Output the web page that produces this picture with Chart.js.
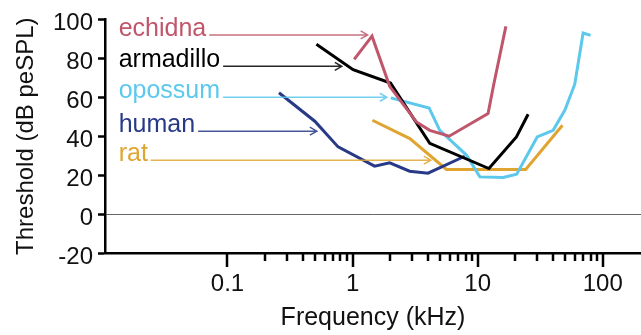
<!DOCTYPE html>
<html>
<head>
<meta charset="utf-8">
<script src="https://cdn.jsdelivr.net/npm/chart.js@4.4.1/dist/chart.umd.min.js"></script>
<style>
  body { margin: 0; background: #fff; }
  #wrap { width: 641px; height: 335px; position: relative; }
</style>
</head>
<body>
<div id="wrap"><canvas id="chart"></canvas></div>
<script>
// Hearing thresholds per species (kHz, dB peSPL)
const species = ['echidna', 'armadillo', 'opossum', 'human', 'rat'];
const colors = ['#c0566b', '#000000', '#5bc8ec', '#283a87', '#e0a530'];

const echidnaFreq = [1.03, 1.43, 1.98, 3.24, 4.14, 5.91, 12.1, 13.5, 16.8];
const echidnaDb = [79.5, 91.4, 65.6, 47.3, 43, 40, 51.6, 67.2, 96.4];
const armadilloFreq = [0.514, 1.01, 2.01, 4.14, 12.3, 20.4, 25.3];
const armadilloDb = [87.2, 74.2, 67.3, 36.3, 23.4, 39.6, 51.3];
const opossumFreq = [2.02, 4.09, 4.98, 8.13, 10.4, 16.0, 20.5, 29.9, 40.1, 49.7, 59.7, 69.6, 79.8];
const opossumDb = [59.7, 54.5, 43, 30.3, 19.1, 18.8, 20.5, 39.6, 43, 53.3, 66.7, 93, 91.8];
const humanFreq = [0.258, 0.499, 0.766, 1.50, 1.98, 2.86, 4.01, 7.88];
const humanDb = [62.3, 47.7, 34.5, 24.6, 26.3, 22, 21, 29.7];
const ratFreq = [1.44, 2.87, 5.63, 24.2, 47.6];
const ratDb = [48.2, 38.8, 22.9, 22.9, 45.6];

// label arrows: where each arrow points and at which level it runs
const labelFreq = 0.0135;
const arrowTipFreq = [1.32, 0.82, 1.88, 0.518, 4.22];
const arrowLevelDb = [92, 75.9, 60, 42.6, 27.7];

const xMajorTicks = [0.1, 1, 10, 100];
const yTicks = [-20, 0, 20, 40, 60, 80, 100];

const FONT = '"Liberation Sans", Arial, Helvetica, sans-serif';
Chart.defaults.font.family = FONT;
Chart.defaults.color = '#111';

function toPoints(xs, ys) {
  return xs.map((x, i) => ({ x: x, y: ys[i] }));
}

const seriesData = [
  toPoints(echidnaFreq, echidnaDb),
  toPoints(armadilloFreq, armadilloDb),
  toPoints(opossumFreq, opossumDb),
  toPoints(humanFreq, humanDb),
  toPoints(ratFreq, ratDb)
];

// minor + major tick marks under the log axis
const logTicksPlugin = {
  id: 'logTicks',
  afterDraw(chart) {
    const x = chart.scales.x;
    const ctx = chart.ctx;
    const y0 = chart.chartArea.bottom;
    ctx.save();
    ctx.strokeStyle = '#000';
    ctx.lineWidth = 2.5;
    for (let d = 0.1; d < 100; d *= 10) {
      for (let k = 1; k <= 10; k++) {
        const v = d * k;
        const major = k === 1 || k === 10;
        if (k === 10 && v < 100) continue;
        const px = Math.round(x.getPixelForValue(v));
        ctx.beginPath();
        ctx.moveTo(px, y0);
        ctx.lineTo(px, y0 + (major ? 14 : 8));
        ctx.stroke();
      }
    }
    ctx.restore();
  }
};

// coloured names with arrows pointing at the curves
const arrowLabelsPlugin = {
  id: 'arrowLabels',
  afterDatasetsDraw(chart) {
    const { ctx } = chart;
    const xs = chart.scales.x;
    const ys = chart.scales.y;
    ctx.save();
    ctx.font = '25px ' + FONT;
    ctx.textBaseline = 'alphabetic';
    species.forEach((name, i) => {
      const y = ys.getPixelForValue(arrowLevelDb[i]);
      const x0 = xs.getPixelForValue(labelFreq);
      const tip = xs.getPixelForValue(arrowTipFreq[i]);
      ctx.fillStyle = colors[i];
      ctx.fillText(name, x0, y + 1);
      const start = x0 + ctx.measureText(name).width + 3;
      ctx.strokeStyle = colors[i];
      ctx.globalAlpha = 0.85;
      ctx.lineWidth = 1.5;
      ctx.beginPath();
      ctx.moveTo(start, y);
      ctx.lineTo(tip, y);
      ctx.moveTo(tip - 7, y - 4);
      ctx.lineTo(tip, y);
      ctx.lineTo(tip - 7, y + 4);
      ctx.stroke();
      ctx.globalAlpha = 1;
    });
    ctx.restore();
  }
};

new Chart(document.getElementById('chart'), {
  type: 'line',
  data: {
    datasets: species.map((name, i) => ({
      label: name,
      data: seriesData[i],
      borderColor: colors[i],
      borderWidth: 3,
      pointRadius: 0,
      tension: 0,
      fill: false
    }))
  },
  options: {
    responsive: true,
    maintainAspectRatio: false,
    animation: false,
    layout: { padding: { top: 19, right: 0, left: 0, bottom: 0 } },
    plugins: {
      legend: { display: false },
      tooltip: { enabled: false }
    },
    scales: {
      x: {
        type: 'logarithmic',
        min: 0.0105,
        max: 202,
        afterFit(scale) { scale.height = 82; },
        afterBuildTicks(scale) {
          scale.ticks = xMajorTicks.map(v => ({ value: v }));
        },
        ticks: {
          autoSkip: false,
          maxRotation: 0,
          padding: 17,
          font: { size: 24 },
          color: '#111',
          callback: v => String(v)
        },
        grid: { drawOnChartArea: false, drawTicks: false },
        border: { display: true, color: '#000', width: 2.5 },
        title: {
          display: true,
          text: 'Frequency (kHz)',
          font: { size: 25 },
          color: '#111',
          padding: { top: 0, bottom: 2 }
        }
      },
      y: {
        min: -20,
        max: 100,
        afterFit(scale) { scale.width = 105; },
        afterBuildTicks(scale) {
          scale.ticks = yTicks.map(v => ({ value: v }));
        },
        ticks: {
          padding: 5,
          labelOffset: 4,
          font: { size: 24 },
          color: '#111'
        },
        grid: {
          drawOnChartArea: true,
          color: c => (c.tick && c.tick.value === 0 ? '#666' : 'rgba(0,0,0,0)'),
          lineWidth: 1,
          tickColor: '#000',
          tickWidth: 2.5,
          tickLength: 7
        },
        border: { display: true, color: '#000', width: 2.5 },
        title: {
          display: true,
          text: 'Threshold (dB peSPL)',
          font: { size: 24 },
          color: '#111',
          padding: { top: 12, bottom: 0 }
        }
      }
    }
  },
  plugins: [logTicksPlugin, arrowLabelsPlugin]
});
</script>
</body>
</html>
